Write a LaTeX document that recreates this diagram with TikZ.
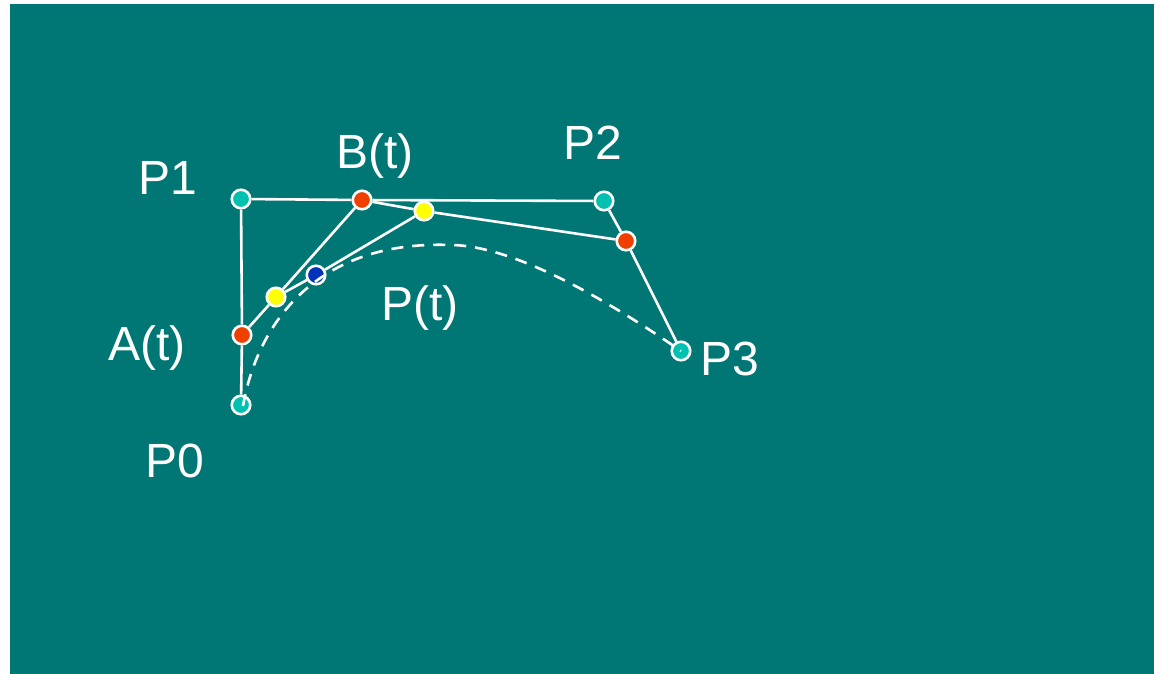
\documentclass[tikz,border=0pt]{standalone}
\usepackage{fontspec}
\setmainfont{Liberation Sans}
\definecolor{bg}{RGB}{0,119,116}
\definecolor{ctrl}{RGB}{0,192,176}
\definecolor{redpt}{RGB}{240,64,0}
\definecolor{yel}{RGB}{255,255,0}
\definecolor{bluept}{RGB}{0,51,187}
\tikzset{
  ptnode/.style={circle, draw=white, line width=2.6pt, minimum size=18.5pt, inner sep=0pt},
  seg/.style={white, line width=2.6pt},
  curvedash/.style={white, line width=2.6pt, dash pattern=on 12pt off 9pt},
  lbl/.style={text=white, font=\fontsize{48}{56}\selectfont, anchor=base, inner sep=0pt}
}
\begin{document}
\begin{tikzpicture}[x=1pt,y=-1pt]
\useasboundingbox (0,0) rectangle (1154,674);
\fill[bg] (10,4) rectangle (1154,674);
% points
\node[ptnode, fill=ctrl] (P0) at (241,405) {};
\node[ptnode, fill=ctrl] (P1) at (241,199) {};
\node[ptnode, fill=ctrl] (P2) at (604,201) {};
\node[ptnode, fill=ctrl] (P3) at (681,351) {};
\node[ptnode, fill=redpt] (A) at (242,335) {};
\node[ptnode, fill=redpt] (B) at (362,200) {};
\node[ptnode, fill=redpt] (C) at (626,241) {};
\node[ptnode, fill=yel] (D) at (276,297) {};
\node[ptnode, fill=yel] (E) at (424,211) {};
\node[ptnode, fill=bluept] (Pt) at (316,275) {};
% segments
\draw[seg] (P0) -- (A);
\draw[seg] (A) -- (P1);
\draw[seg] (P1) -- (B);
\draw[seg] (B) -- (P2);
\draw[seg] (P2) -- (C);
\draw[seg] (C) -- (P3);
\draw[seg] (A) -- (D);
\draw[seg] (D) -- (B);
\draw[seg] (B) -- (E);
\draw[seg] (E) -- (C);
\draw[seg] (D) -- (Pt);
\draw[seg] (Pt) -- (E);
% curve
\coordinate (cs) at (243,406);
\coordinate (peak) at (450,245);
\draw[curvedash] (cs) .. controls (258,320) and (320,240) .. (peak)
  .. controls (510,245) and (600,295) .. (P3.center);
% labels
\node[lbl] (lP1) at (168,194) {P1};
\node[lbl] (lB) at (375,168) {B(t)};
\node[lbl] (lP2) at (593,160) {P2};
\node[lbl] (lP3) at (730,375) {P3};
\node[lbl] (lA) at (147,360) {A(t)};
\node[lbl] (lP0) at (175,477) {P0};
\node[lbl] (lPt) at (420,320) {P(t)};
\end{tikzpicture}
\end{document}
